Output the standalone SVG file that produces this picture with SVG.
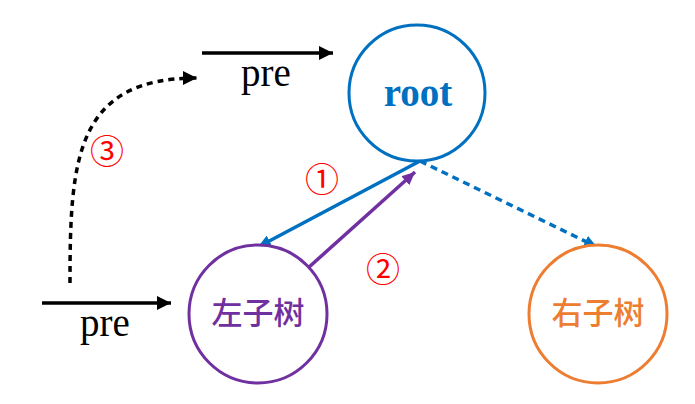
<svg xmlns="http://www.w3.org/2000/svg" width="695" height="404" viewBox="0 0 695 404">
<style>
.node{fill:#fff;stroke-width:3}
.pre{font-family:"Liberation Serif","Times New Roman",serif;font-size:39px;fill:#000;text-anchor:middle}
.rt{font-family:"Liberation Serif","Times New Roman",serif;font-weight:bold;font-size:39px;fill:#0070C0;text-anchor:middle}
.cn{font-family:"Noto Sans CJK SC",sans-serif;font-size:31px;font-weight:500;text-anchor:middle}
.num{font-family:"Noto Sans CJK SC",sans-serif;font-size:34px;fill:#FF0000;text-anchor:middle}
</style>
<defs>
<marker id="ak" markerUnits="userSpaceOnUse" markerWidth="16" markerHeight="14" refX="14" refY="7" orient="auto"><path d="M0,0 L14,7 L0,14 z" fill="#000"/></marker>
<marker id="ab" markerUnits="userSpaceOnUse" markerWidth="14" markerHeight="12" refX="13" refY="6" orient="auto"><path d="M0,0 L13,6 L0,12 z" fill="#0070C0"/></marker>
<marker id="ap" markerUnits="userSpaceOnUse" markerWidth="14" markerHeight="12" refX="13" refY="6" orient="auto"><path d="M0,0 L13,6 L0,12 z" fill="#7030A0"/></marker>
</defs>
<rect width="695" height="404" fill="#fff"/>
<g id="connectors" fill="none">
<line x1="202" y1="53" x2="333" y2="53" stroke="#000" stroke-width="3.5" marker-end="url(#ak)"/>
<line x1="42" y1="303" x2="171" y2="303" stroke="#000" stroke-width="3.5" marker-end="url(#ak)"/>
<path d="M70,283 C70,160 75,78 197,78" stroke="#000" stroke-width="3.5" stroke-dasharray="6,5" marker-end="url(#ak)"/>
<line x1="420" y1="161" x2="258" y2="247" stroke="#0070C0" stroke-width="3.5" marker-end="url(#ab)"/>
<line x1="308" y1="268" x2="415" y2="172" stroke="#7030A0" stroke-width="3.5" marker-end="url(#ap)"/>
<line x1="420" y1="161" x2="597" y2="247" stroke="#0070C0" stroke-width="3.5" stroke-dasharray="7,5" marker-end="url(#ab)"/>
</g>
<g id="root">
<circle class="node" cx="417" cy="93" r="68" stroke="#0070C0"/>
<text class="rt" x="418" y="106">root</text>
</g>
<g id="left">
<circle class="node" cx="258" cy="314" r="69" stroke="#7030A0"/>
<text class="cn" x="258" y="324" fill="#7030A0">左子树</text>
</g>
<g id="right">
<circle class="node" cx="598" cy="314" r="69" stroke="#ED7D31"/>
<text class="cn" x="598" y="324" fill="#ED7D31">右子树</text>
</g>
<g id="labels">
<text class="pre" x="266" y="86">pre</text>
<text class="pre" x="105" y="336">pre</text>
<text class="num" x="322" y="192">①</text>
<text class="num" x="383" y="282">②</text>
<text class="num" x="107" y="164">③</text>
</g>
</svg>
